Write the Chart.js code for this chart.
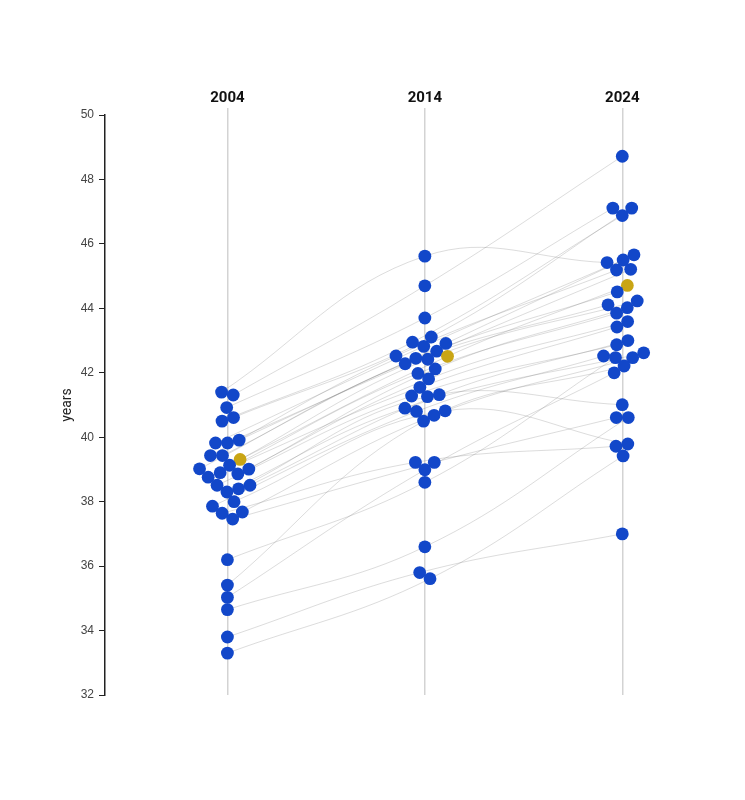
<!DOCTYPE html>
<html>
<head>
    <title>Age by year</title>
    <script src="https://cdn.jsdelivr.net/npm/chart.js"></script>
    <style>
        body { margin: 0; background: #fff; }
    </style>
</head>
<body>
    <canvas id="swarm-chart" width="745" height="800"></canvas>

    <script>
        // one entry per entity, same index in each year
        const years = ['2004', '2014', '2024'];
        const age2004 = [41.40, 41.31, 40.92, 40.61, 40.50, 39.91, 39.82, 39.82, 39.43, 39.31, 39.43, 39.13, 39.02, 39.01, 38.90, 38.86,
                         38.76, 38.51, 38.51, 38.40, 38.30, 38.00, 37.86, 37.68, 37.64, 37.46, 36.20, 35.41, 35.03, 34.65, 33.80, 33.30];
        const age2014 = [45.62, 44.70, 43.70, 43.11, 42.95, 42.91, 42.82, 42.67, 42.52, 42.51, 42.45, 42.42, 42.28, 42.12, 41.98, 41.81,
                         41.55, 41.32, 41.28, 41.26, 40.90, 40.82, 40.80, 40.68, 39.22, 39.22, 38.60, 40.50, 38.99, 36.60, 35.80, 35.61];
        const age2024 = [45.42, 48.72, 47.11, 47.11, 46.88, 45.66, 45.50, 45.21, 45.19, 44.71, 44.51, 44.23, 44.11, 44.02, 43.85, 43.59,
                         43.42, 43.00, 42.87, 41.01, 42.62, 39.79, 42.52, 42.47, 39.72, 40.61, 42.47, 42.21, 42.00, 40.61, 37.00, 39.42];
        const highlight = 9;   // the gold one
        const yTicks = [32, 34, 36, 38, 40, 42, 44, 46, 48, 50];

        const series = [age2004, age2014, age2024];
        const BLUE = '#1247c9';
        const GOLD = '#c9a514';
        const R = 6.4;      // drawn radius
        const GAP = 12;     // centre distance between touching dots

        // thin curve per entity through its three years
        const lineSets = age2004.map((_, i) => ({
            showLine: true,
            data: series.map((s, c) => ({ x: c, y: s[i] })),
            borderColor: 'rgba(110,110,110,0.3)',
            borderWidth: 0.8,
            tension: 0.4,
            pointRadius: 0,
            order: 2
        }));

        // dots, one dataset per year
        const dotSets = series.map((s, c) => ({
            data: s.map(v => ({ x: c, y: v })),
            pointRadius: R,
            pointBorderWidth: 0,
            backgroundColor: ctx => ctx.dataIndex === highlight ? GOLD : BLUE,
            order: 0
        }));

        const chart = new Chart(document.getElementById('swarm-chart'), {
            type: 'scatter',
            data: { datasets: lineSets.concat(dotSets) },
            options: {
                responsive: false,
                animation: false,
                events: [],
                layout: { padding: { left: 50, top: 0, right: 24, bottom: 105 } },
                plugins: { legend: { display: false }, tooltip: { enabled: false } },
                scales: {
                    x: {
                        type: 'linear',
                        position: 'top',
                        min: -0.62,
                        max: 2.5,
                        afterBuildTicks: s => { s.ticks = years.map((_, i) => ({ value: i })); },
                        afterFit: s => { s.height = 115; },
                        grid: { color: '#d3d3d3', lineWidth: 1.5, tickLength: 7 },
                        border: { display: false },
                        ticks: {
                            callback: v => years[v],
                            color: '#111',
                            padding: 1,
                            maxRotation: 0,
                            font: { family: 'Roboto', size: 15, weight: 'bold' }
                        }
                    },
                    y: {
                        min: 32,
                        max: 50,
                        afterBuildTicks: s => { s.ticks = yTicks.map(v => ({ value: v })); },
                        afterFit: s => { s.width = 55; },
                        grid: { drawOnChartArea: false, tickLength: 6, color: '#222', lineWidth: 1 },
                        border: { color: '#222', width: 1.5 },
                        ticks: {
                            color: '#444',
                            padding: 5,
                            font: { family: 'Liberation Sans', size: 12 }
                        },
                        title: {
                            display: true,
                            text: 'years',
                            color: '#222',
                            padding: { top: 9, bottom: 0 },
                            font: { family: 'Roboto', size: 14 }
                        }
                    }
                }
            }
        });

        // beeswarm: y stays on the value, x relaxes toward the column while dots push apart
        function swarm() {
            const xs = chart.scales.x, ys = chart.scales.y;
            const unit = xs.getPixelForValue(1) - xs.getPixelForValue(0);
            series.forEach((vals, c) => {
                const py = vals.map(v => ys.getPixelForValue(v));
                let dx = vals.map((_, i) => (i % 2 ? 1 : -1) * (i % 5) * 0.4);
                for (let it = 0; it < 600; it++) {
                    if (it < 500) dx = dx.map(d => d * 0.97);
                    for (let a = 0; a < vals.length; a++) {
                        for (let b = a + 1; b < vals.length; b++) {
                            const dy = py[a] - py[b];
                            if (Math.abs(dy) >= GAP) continue;
                            const need = Math.sqrt(GAP * GAP - dy * dy);
                            const d = dx[b] - dx[a];
                            if (Math.abs(d) >= need) continue;
                            const sign = d === 0 ? (b % 2 ? 1 : -1) : Math.sign(d);
                            const push = (need - Math.abs(d)) / 2;
                            dx[a] -= sign * push;
                            dx[b] += sign * push;
                        }
                    }
                }
                dx.forEach((d, i) => {
                    const x = c + d / unit;
                    dotSets[c].data[i].x = x;
                    lineSets[i].data[c].x = x;
                });
            });
            chart.update('none');
        }
        swarm();
    </script>
</body>
</html>
